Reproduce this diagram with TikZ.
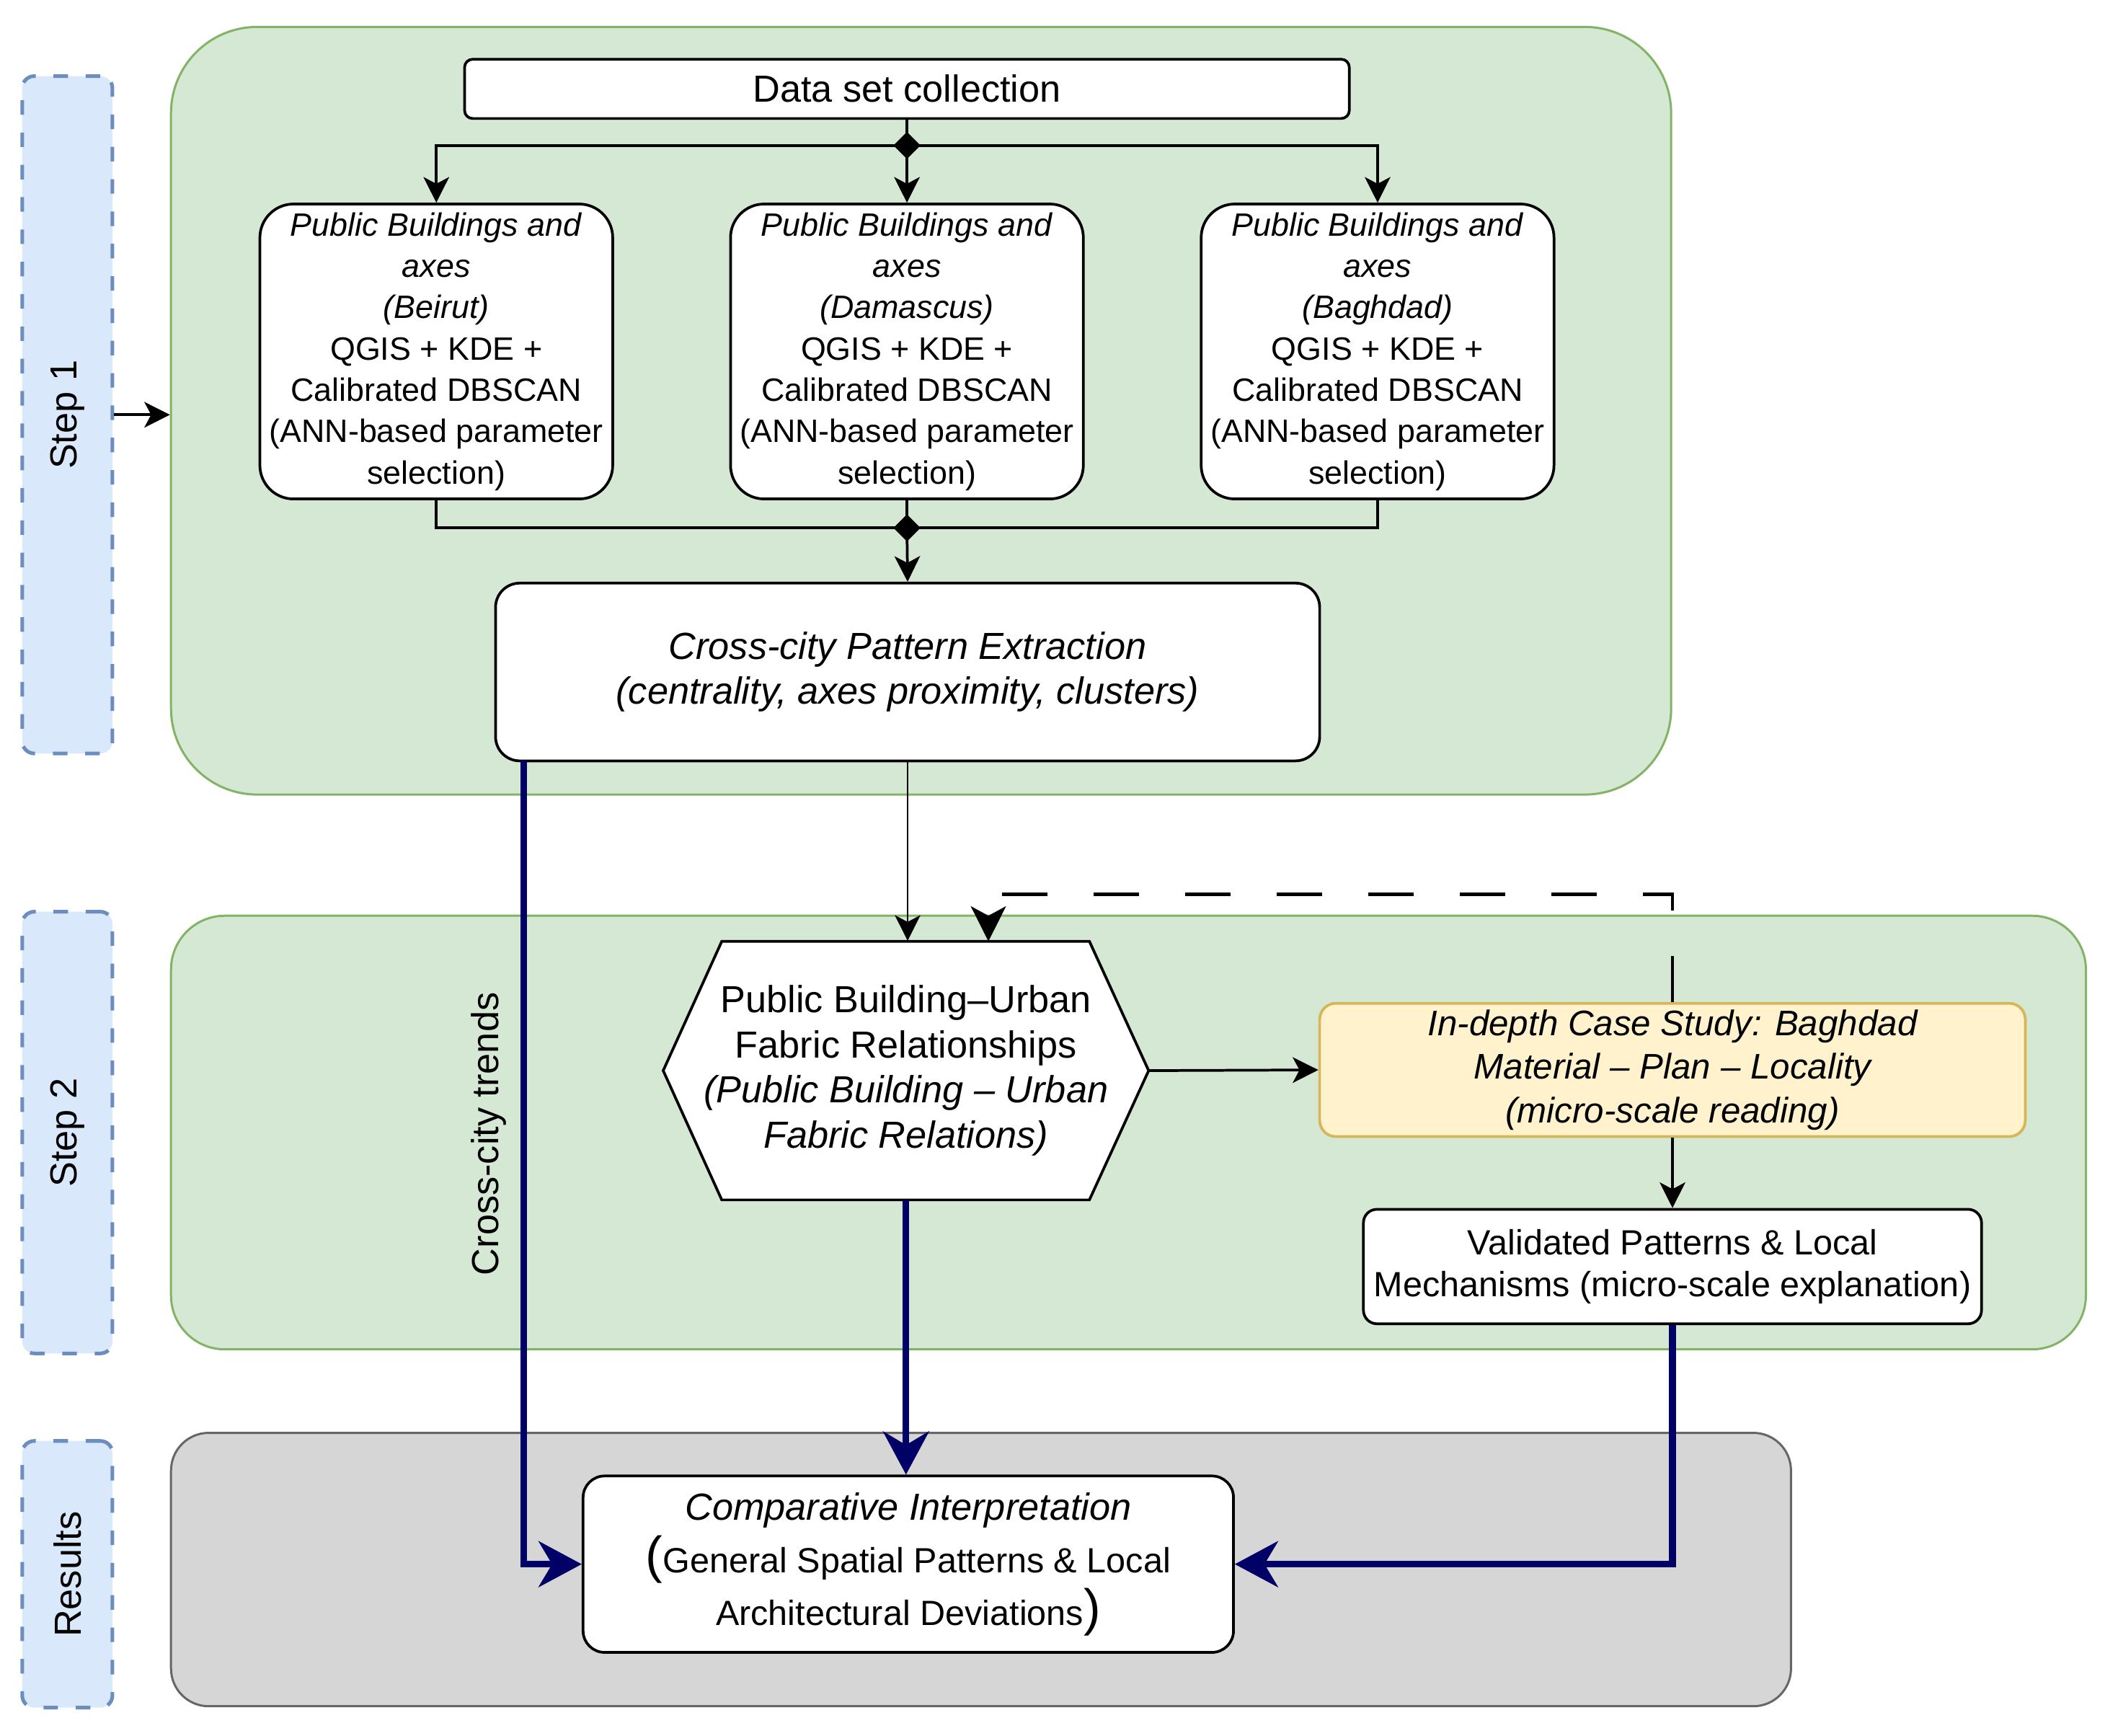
\documentclass[tikz,border=0pt]{standalone}
\usepackage{fontspec}
\setmainfont{Liberation Sans}
\usetikzlibrary{arrows.meta,calc}
\definecolor{stepfill}{HTML}{DAE8FC}
\definecolor{stepline}{HTML}{6C8EBF}
\definecolor{greenfill}{HTML}{D5E8D4}
\definecolor{greenline}{HTML}{82B366}
\definecolor{grayfill}{HTML}{D6D6D6}
\definecolor{grayline}{HTML}{666666}
\definecolor{casefill}{HTML}{FFF2CC}
\definecolor{caseline}{HTML}{D6B656}
\definecolor{navy}{HTML}{000066}
\begin{document}
\begin{tikzpicture}[x=0.5pt,y=-0.5pt,
  stepbox/.style={draw=stepline, fill=stepfill, line width=1.35pt,
    dash pattern=on 5.4pt off 6.6pt, rounded corners=4.5pt, inner sep=0pt,
    minimum width=33.5pt, font=\fontsize{14}{16}\selectfont},
  panel/.style={rounded corners=#1, inner sep=0pt, line width=0.8pt},
  box/.style={draw=black, fill=white, line width=1pt, inner sep=0pt, align=center},
  citybox/.style={box, rounded corners=12.5pt, minimum width=131pt, minimum height=109.5pt,
    font=\fontsize{12}{15.35}\selectfont},
  blackline/.style={draw=black, line width=1pt},
  thinarrow/.style={draw=black, line width=1pt, -{Stealth[length=9.5pt,width=9.5pt,inset=2.5pt]}},
  navyarrow/.style={draw=navy, line width=2.5pt, -{Stealth[length=16pt,width=17pt,inset=5pt]}},
  dasharrow/.style={draw=black, line width=1.3pt, dash pattern=on 17pt off 17pt,
    -{Stealth[length=13pt,width=13pt,inset=3.5pt]}},
  junction/.style={fill=black}
]
\useasboundingbox (0,0) rectangle (1563.2,1289.1);

% panels
\node[panel=32pt, fill=greenfill, draw=greenline, minimum width=557pt, minimum height=285pt] (green1) at (684,305) {};
\node[panel=20pt, fill=greenfill, draw=greenline, minimum width=711pt, minimum height=161pt] (green2) at (838,841) {};
\node[panel=14pt, fill=grayfill, draw=grayline, minimum width=601.5pt, minimum height=101.5pt] (grayp) at (728.5,1165.5) {};

% step labels
\node[stepbox, minimum height=251.5pt] (step1) at (50,308) {\rotatebox{90}{Step 1}};
\node[stepbox, minimum height=164pt] (step2) at (50,841) {\rotatebox{90}{Step 2}};
\node[stepbox, minimum height=99pt] (step3) at (50,1169) {\rotatebox{90}{Results}};

% step 1 boxes
\node[box, rounded corners=3pt, minimum width=328.5pt, minimum height=22pt,
  font=\fontsize{14}{16}\selectfont] (data) at (673.5,66) {Data set collection};
\node[citybox] (beirut) at (324,261) {\textit{Public Buildings and}\\\textit{axes}\\\textit{(Beirut)}\\QGIS + KDE +\\Calibrated DBSCAN\\(ANN-based parameter\\selection)};
\node[citybox] (damascus) at (673.5,261) {\textit{Public Buildings and}\\\textit{axes}\\\textit{(Damascus)}\\QGIS + KDE +\\Calibrated DBSCAN\\(ANN-based parameter\\selection)};
\node[citybox] (baghdad) at (1023,261) {\textit{Public Buildings and}\\\textit{axes}\\\textit{(Baghdad)}\\QGIS + KDE +\\Calibrated DBSCAN\\(ANN-based parameter\\selection)};
\node[box, rounded corners=9pt, minimum width=306pt, minimum height=66pt,
  font=\fontsize{14}{16.5}\selectfont\itshape] (cc) at (674,499) {Cross-city Pattern Extraction\\(centrality, axes proximity, clusters)};

% step 2 boxes
\draw[box] (492.5,795) -- (536,699) -- (809,699) -- (853,795) -- (809,891) -- (536,891) -- cycle;
\node[inner sep=0pt, align=center, minimum width=180.25pt, minimum height=96pt,
  font=\fontsize{14}{16.7}\selectfont] (hex) at (672.8,795) {Public Building–Urban\\Fabric Relationships\\\textit{(Public Building – Urban}\\\textit{Fabric Relations)}};
\node[box, fill=casefill, draw=caseline, rounded corners=6pt, minimum width=262pt, minimum height=49.5pt,
  font=\fontsize{13.2}{16.25}\selectfont\itshape] (case) at (1242,794.5) {In-depth Case Study: Baghdad\\Material – Plan – Locality\\(micro-scale reading)};
\node[box, rounded corners=5pt, minimum width=229.5pt, minimum height=42.5pt,
  font=\fontsize{13}{15.5}\selectfont] (valid) at (1242,940.5) {Validated Patterns \& Local\\Mechanisms (micro-scale explanation)};

% results box
\node[box, rounded corners=8pt, minimum width=241.5pt, minimum height=65.5pt,
  font=\fontsize{13}{19.5}\selectfont] (comp) at (674.5,1161.5)
  {{\fontsize{14}{19.5}\selectfont\itshape Comparative Interpretation}\\{\fontsize{19}{19.5}\selectfont(}General Spatial Patterns \& Local\\Architectural Deviations{\fontsize{19}{19.5}\selectfont)}};

% coordinates
\coordinate (j1) at (673.5,108);
\coordinate (j2) at (673.5,392);
\coordinate (ccl) at (389,565);
\coordinate (dcorner) at (1242,664);
\coordinate (hexin) at (734,699);

% step1 -> panel
\draw[thinarrow] (step1.east) -- (step1.east -| green1.west);

% data -> cities
\draw[blackline] (data.south) -- (j1);
\draw[thinarrow] (j1) -| (beirut.north);
\draw[thinarrow] (j1) -- (damascus.north);
\draw[thinarrow] (j1) -| (baghdad.north);
\fill[junction] (j1) ++(0,-10) -- ++(10,10) -- ++(-10,10) -- ++(-10,-10) -- cycle;

% cities -> cc
\draw[blackline] (beirut.south) |- (j2);
\draw[blackline] (baghdad.south) |- (j2);
\draw[blackline] (damascus.south) -- (j2);
\draw[thinarrow] (j2) -- (cc.north);
\fill[junction] (j2) ++(0,-10) -- ++(10,10) -- ++(-10,10) -- ++(-10,-10) -- cycle;

% cc -> hex
\draw[draw=black, line width=0.6pt, -{Stealth[length=9.5pt,width=9.5pt,inset=2.5pt]}] (cc.south) -- (cc.south |- hex.north);

% cross-city trends
\draw[navyarrow] (ccl) |- (comp.west);
\node[font=\fontsize{14}{16}\selectfont, inner sep=0pt] (trend) at (363,842) {\rotatebox{90}{Cross-city trends}};

% hex -> case
\draw[thinarrow] (hex.east) -- (case.west);
% feedback dashed
\draw[dasharrow] (case.north) -- (dcorner) -| (hexin);
% case -> valid
\draw[thinarrow] (case.south) -- (valid.north);
% valid -> comp
\draw[navyarrow] (valid.south) |- (comp.east);
% hex -> comp
\draw[navyarrow] (hex.south) -- (hex.south |- comp.north);
\end{tikzpicture}
\end{document}
